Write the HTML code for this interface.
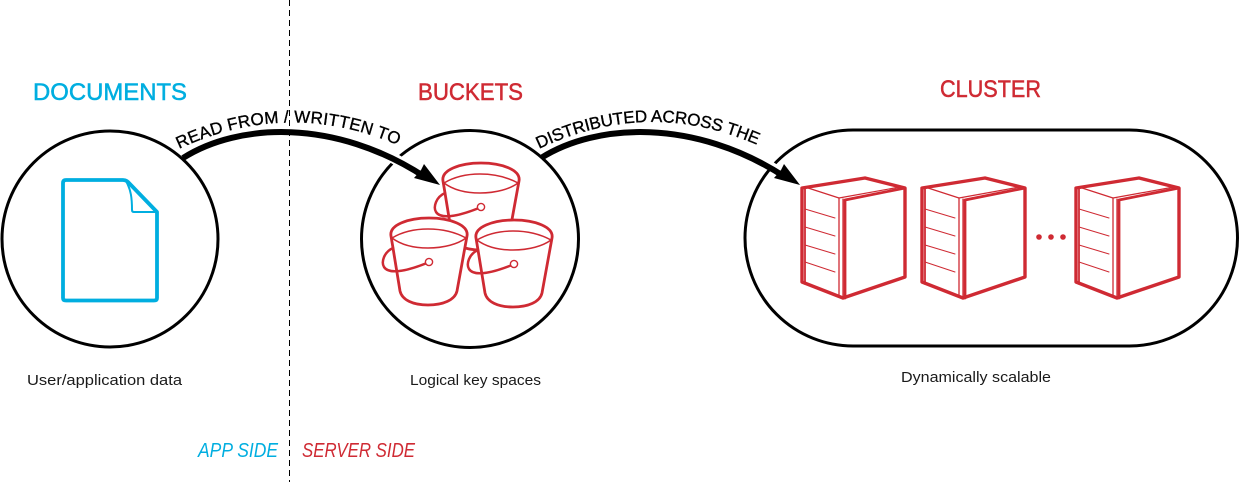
<!DOCTYPE html>
<html>
<head>
<meta charset="utf-8">
<style>
html,body{margin:0;padding:0;background:#fff;width:1239px;height:482px;overflow:hidden}
svg{display:block}
text{font-family:"Liberation Sans",sans-serif}
</style>
</head>
<body>
<svg width="1239" height="482" viewBox="0 0 1239 482" xmlns="http://www.w3.org/2000/svg">
<defs>
  <g id="bucket" fill="none" stroke="#cf2a33" stroke-linejoin="round" stroke-linecap="round">
    <path d="M393,248 L391,236 C389,225 408,218 429,218 C450,218 469,225 467,236 L465,247 L457,291 C455,300 443,305 428,305 C413,305 402,300 400,291 Z" fill="#fff" stroke-width="2.800"/>
    <path d="M392,238 C402,232 414,229 428,229 C442,229 455,232 466,238 C458,244 444,248 428,248 C412,248 400,244 392,238 Z" stroke-width="1.500"/>
    <path d="M393,248 C384,252 381,262 384,267 C390,276 412,269 427,263" stroke-width="2.500"/>
    <circle cx="429" cy="262" r="3.600" stroke-width="1.400" fill="#fff"/>
  </g>
  <g id="server" fill="#fff" stroke="#cf2a33" stroke-linejoin="round" stroke-linecap="round">
    <path d="M802,188 L865,178 L905,188 L905,277 L843,298 L802,282 Z" stroke-width="3.400"/>
    <path d="M805,187 L805,284" fill="none" stroke-width="1.800"/>
    <path d="M805,187 L839,198 L900,187" fill="none" stroke-width="1.200"/>
    <path d="M839,198 L839,297 M843,199 L843,298" fill="none" stroke-width="1.300"/>
    <path d="M845,200 L905,188 M845,200 L845,298" fill="none" stroke-width="2.800"/>
    <path d="M805,209 L835,218 M805,227 L835,236 M805,245 L835,254 M805,262 L835,272" fill="none" stroke-width="1"/>
  </g>
</defs>

<line x1="289.500" y1="0" x2="289.500" y2="482" stroke="#000" stroke-width="1" stroke-dasharray="6 4"/>

<circle cx="110" cy="239" r="108" fill="none" stroke="#000" stroke-width="3"/>
<circle cx="470" cy="239" r="108.500" fill="none" stroke="#000" stroke-width="3"/>
<rect x="745" y="130" width="492.500" height="216" rx="108" ry="108" fill="none" stroke="#000" stroke-width="3"/>

<!-- document -->
<g fill="none" stroke="#00aee0" stroke-linejoin="round">
  <path d="M66,180 L123,180 Q126,180 128,182 L157,212 L157,298 Q157,300.500 154,300.500 L66,300.500 Q63,300.500 63,298 L63,183 Q63,180 66,180 Z" stroke-width="3.800"/>
  <path d="M126,181 C131,190 132,198 132,210 Q132,212 134,212 L156,212" stroke-width="2"/>
</g>

<!-- buckets -->
<use href="#bucket" transform="translate(52,-55)"/>
<use href="#bucket"/>
<use href="#bucket" transform="translate(85,2)"/>

<!-- servers -->
<use href="#server"/>
<use href="#server" transform="translate(120,0)"/>
<use href="#server" transform="translate(274,0)"/>
<circle cx="1039" cy="237" r="2.800" fill="#cf2a33"/>
<circle cx="1051" cy="237" r="2.800" fill="#cf2a33"/>
<circle cx="1063" cy="237" r="2.800" fill="#cf2a33"/>

<!-- arrows -->
<path d="M385,153 L410,168" fill="none" stroke="#fff" stroke-width="11"/>
<path d="M760,159 L782,173" fill="none" stroke="#fff" stroke-width="9"/>
<path d="M183,158 C238,123 335,118 425,177" fill="none" stroke="#000" stroke-width="6"/>
<path d="M440,185 L424,164 L421,170 L414,178 Z" fill="#000"/>
<path d="M541,158 C596,123 695,118 785,177" fill="none" stroke="#000" stroke-width="6"/>
<path d="M800,185 L784,164 L781,170 L774,178 Z" fill="#000"/>

<path id="t1" d="M179,149 Q290,97 402,147 L440,170" fill="none"/>
<path id="t2" d="M539,149 Q650,96 762,147 L800,170" fill="none"/>
<text font-size="17" fill="#000" stroke="#000" stroke-width="0.350" letter-spacing="0.220"><textPath href="#t1">READ FROM / WRITTEN TO</textPath></text>
<text font-size="17" fill="#000" stroke="#000" stroke-width="0.350" letter-spacing="-0.100"><textPath href="#t2">DISTRIBUTED ACROSS THE</textPath></text>

<!-- headings -->
<text x="33" y="100" font-size="24" fill="#00aee0" stroke="#00aee0" stroke-width="0.500" textLength="154" lengthAdjust="spacingAndGlyphs">DOCUMENTS</text>
<text x="418" y="100" font-size="24" fill="#cf2a33" stroke="#cf2a33" stroke-width="0.500" textLength="105" lengthAdjust="spacingAndGlyphs">BUCKETS</text>
<text x="940" y="97" font-size="24" fill="#cf2a33" stroke="#cf2a33" stroke-width="0.500" textLength="101" lengthAdjust="spacingAndGlyphs">CLUSTER</text>

<!-- captions -->
<text x="27" y="385" font-size="15" fill="#1a1a1a" textLength="155" lengthAdjust="spacingAndGlyphs">User/application data</text>
<text x="410" y="385" font-size="15" fill="#1a1a1a" textLength="131" lengthAdjust="spacingAndGlyphs">Logical key spaces</text>
<text x="901" y="382" font-size="15" fill="#1a1a1a" textLength="150" lengthAdjust="spacingAndGlyphs">Dynamically scalable</text>

<text x="198" y="457" font-size="20" font-style="italic" fill="#00aee0" textLength="80" lengthAdjust="spacingAndGlyphs">APP SIDE</text>
<text x="302" y="457" font-size="20" font-style="italic" fill="#cf2a33" textLength="113" lengthAdjust="spacingAndGlyphs">SERVER SIDE</text>
</svg>
</body>
</html>
